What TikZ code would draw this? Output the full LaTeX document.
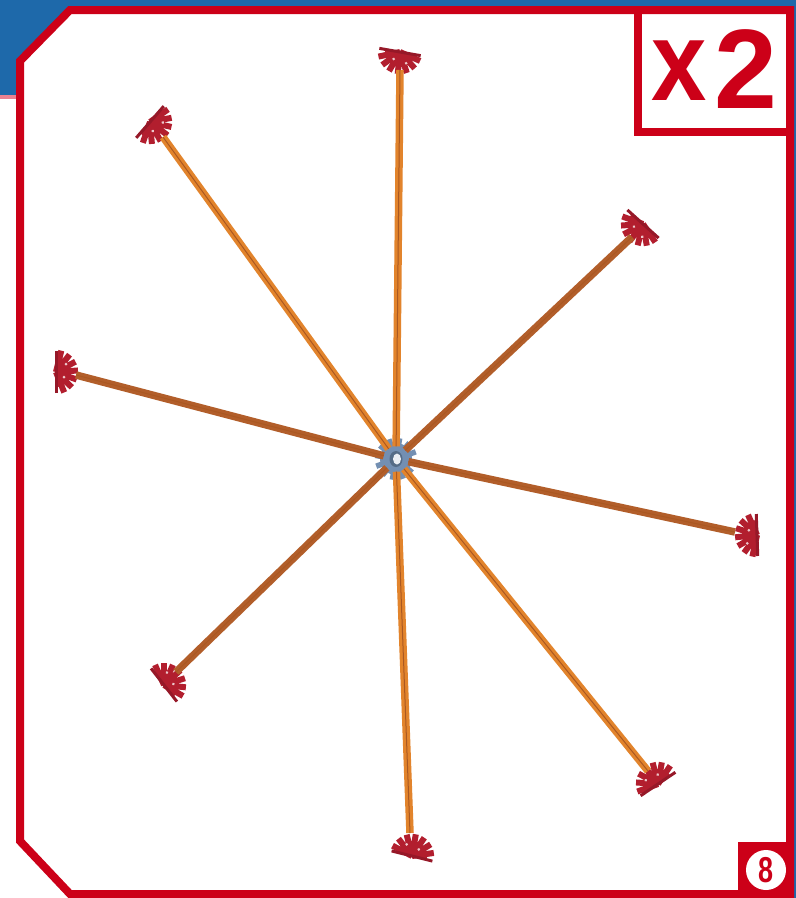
\documentclass[tikz,border=0pt]{standalone}
\usepackage{fontspec}
\setmainfont{Liberation Sans}
\usetikzlibrary{calc}
\definecolor{framered}{RGB}{204, 0, 24}
\definecolor{pageblue}{RGB}{30, 105, 170}
\definecolor{pagepink}{RGB}{235, 130, 145}
\definecolor{gearred}{RGB}{178, 30, 46}
\definecolor{geardark}{RGB}{150, 24, 40}
\definecolor{rodorange}{RGB}{226, 132, 44}
\definecolor{rodbrown}{RGB}{178, 94, 42}
\definecolor{rodshade}{RGB}{170, 88, 34}
\definecolor{hubblue}{RGB}{115, 143, 178}
\definecolor{hubdark}{RGB}{85, 108, 135}
\tikzset{
    frameline/.style={draw=framered, line width=8pt, miter limit=10},
    rodlight/.style={draw=rodorange, line width=7.5pt},
    roddark/.style={draw=rodbrown, line width=7.5pt},
    rodcore/.style={draw=rodshade, line width=1pt},
    pics/halfgear/.style={code={
        \foreach \a in {14,38,...,170} {
            \draw[gearred, line width=6pt] (0,0) -- (\a:22);
        }
        \fill[gearred] (-15,0) -- (15,0) arc (0:180:15) -- cycle;
        \draw[geardark, line width=3pt] (-21,0) -- (21,0);
        \fill[white!75!gearred] (-5,8) circle (1.5);
        \fill[white!75!gearred] (8,10) circle (1.5);
    }},
}

\begin{document}
\begin{tikzpicture}[x=1pt, y=-1pt]
\useasboundingbox (0,0) rectangle (796,898);

% === Fondo de la pagina ===
\fill[pageblue] (0,0) -- (796,0) -- (796,8) -- (70,8) -- (20,61) -- (20,95) -- (0,95) -- cycle;
\fill[pagepink] (0,95) rectangle (20,99);
\fill[pageblue] (790,0) rectangle (796,898);

% === Marco ===
\fill[white] (20,61) -- (70,10) -- (790,10) -- (790,894) -- (70,894) -- (20,841) -- cycle;
\draw[frameline] (20,61) -- (70,10) -- (790,10) -- (790,894) -- (70,894) -- (20,841) -- cycle;

% === Cantidad ===
\draw[framered, line width=8pt] (638,10) -- (638,131.5) -- (790,131.5);
\node[font=\fontsize{113}{113}\selectfont\bfseries, text=framered, anchor=base, inner sep=0, xscale=0.88] (cantx) at (679,100) {x};
\node[font=\fontsize{113}{113}\selectfont\bfseries, text=framered, anchor=base, inner sep=0] (cant2) at (746,108) {2};

% === Numero de paso ===
\fill[framered] (738,842) rectangle (790,894);
\node[circle, fill=white, minimum size=40pt, inner sep=0] (pasocirc) at (766,870) {};
\node[font=\fontsize{36}{36}\selectfont\bfseries, text=framered, xscale=0.75, inner sep=0] (paso) at (pasocirc) {8};

% === Engranaje central ===
\node[circle, minimum size=25pt, inner sep=0] (hub) at (396,459) {};
\foreach \a in {0,30,...,330} {
    \draw[hubblue, line width=5.5pt] (hub.center) -- ++(\a+10:21);
}
\fill[hubblue] (hub.center) circle (16);
\fill[hubdark] (hub.center) ellipse (6.5 and 8);
\fill[white!85!hubblue] (397,459) ellipse (4 and 5.5);

% === Semiengranajes ===
\foreach \name/\pos/\ang in {
    gearA/{(400,52)}/-10, gearB/{(150,122)}/49, gearC/{(643,224)}/-42,
    gearD/{(56,372)}/90, gearE/{(757,535)}/-88, gearF/{(164,685)}/128,
    gearG/{(658,784)}/-146, gearH/{(412,856)}/166} {
    \pic[rotate=\ang] (\name) at \pos {halfgear};
}

% === Extremos de las varillas ===
\coordinate (tipA) at (400,70);
\coordinate (tipB) at (163,137);
\coordinate (tipC) at (632,237);
\coordinate (tipD) at (76,375);
\coordinate (tipE) at (735,532);
\coordinate (tipF) at (176,672);
\coordinate (tipG) at (648,771);
\coordinate (tipH) at (410,833);

% === Varillas ===
\foreach \tip in {tipA,tipB,tipG,tipH} {
    \draw[rodlight] (hub) -- (\tip);
    \draw[rodcore] (hub) -- (\tip);
}
\foreach \tip in {tipC,tipD,tipE,tipF} {
    \draw[roddark] (hub) -- (\tip);
    \draw[rodcore] (hub) -- (\tip);
}

\end{tikzpicture}
\end{document}
